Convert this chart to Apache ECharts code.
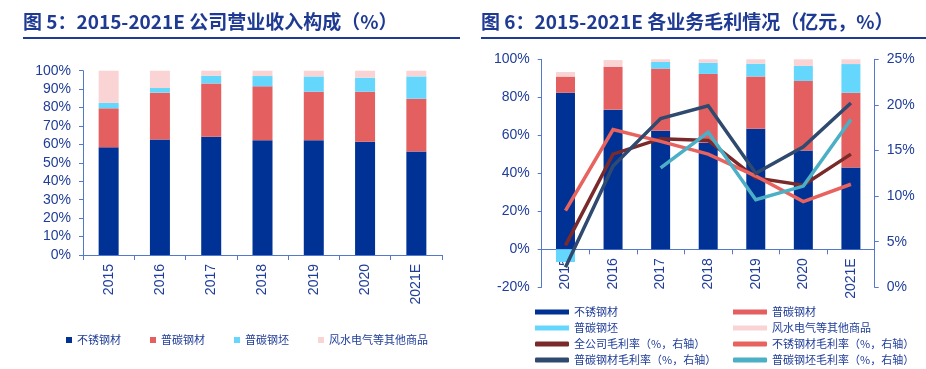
<!DOCTYPE html>
<html><head><meta charset="utf-8">
<script src="https://cdn.jsdelivr.net/npm/echarts@6/dist/echarts.min.js"></script>
<style>html,body{margin:0;padding:0;background:#fff}#c{width:926px;height:369px}</style>
</head><body><div id="c"></div>
<script>
const years = ['2015','2016','2017','2018','2019','2020','2021E'];
// Figure 5: revenue composition (%)
const revStainless = [58.4, 62.7, 64.2, 62.2, 62.2, 61.5, 56.1];
const revCarbon    = [21.2, 25.4, 28.9, 29.3, 26.4, 27.1, 28.7];
const revBillet    = [2.9, 2.5, 4.2, 5.6, 8.3, 7.6, 12.1];
const revOther     = [17.5, 9.4, 2.7, 2.9, 3.1, 3.8, 3.1];
// Figure 6: gross profit composition (%) and margins (%, right axis)
const gpStainless = [82.4, 73.5, 62.4, 56.1, 63.4, 52.0, 43.1];
const gpCarbon    = [8.5, 22.6, 32.7, 36.2, 27.6, 36.6, 39.3];
const gpBillet    = [-6.7, 0, 3.5, 5.9, 6.7, 7.9, 15.1];
const gpOther     = [2.4, 3.5, 1.4, 1.8, 2.3, 3.5, 2.5];
const mTotal     = [4.6, 14.6, 16.3, 16.1, 12.0, 11.2, 14.6];
const mStainless = [8.4, 17.3, 16.0, 14.6, 12.2, 9.4, 11.3];
const mCarbon    = [2.2, 13.3, 18.5, 19.9, 12.5, 15.4, 20.2];
const mBillet    = [null, null, 13.1, 17.0, 9.6, 11.1, 18.4];
const leftTicks = { min: 0, max: 100, interval: 10 };
const gpTicks = { min: -20, max: 100, interval: 20 };
const marginTicks = { min: 0, max: 25, interval: 5 };

const C = { navy:'#003296', red:'#E46060', cyan:'#66D7FC', pink:'#FAD4D4',
  brown:'#7A2A2A', salmon:'#E8625E', slate:'#2F4A6E', teal:'#4BAFC6' };
const TXT = '#1F3D99', AX = '#5479CC';
const LAT = '"Liberation Sans", Arial, sans-serif';
const CJK = '"Noto Sans CJK SC", sans-serif';

const axisLbl = { color: TXT, fontSize: 14, fontFamily: LAT };
function xAxisCfg(gi, margin, visible){
  return { type:'category', gridIndex: gi, data: years, boundaryGap: true, show: visible,
    axisLine:{ show:true, onZero:true, lineStyle:{ color: AX, width: 1 } },
    axisTick:{ show:true, length:5, lineStyle:{ color: AX } },
    axisLabel: Object.assign({ rotate: 90, margin: margin, interval: 0 }, axisLbl),
    splitLine:{ show:false } };
}
function yAxisCfg(gi, t, pos, visible){
  return { type:'value', gridIndex: gi, position: pos, min:t.min, max:t.max, interval:t.interval, show: visible,
    axisLine:{ show:true, lineStyle:{ color: AX, width: 1 } },
    axisTick:{ show:true, length:4, lineStyle:{ color: AX } },
    axisLabel: Object.assign({ formatter:'{value}%', margin: 12 }, axisLbl),
    splitLine:{ show:false } };
}
function bar(name, data, color, xi, yi, stack, w){
  return { name, type:'bar', xAxisIndex: xi, yAxisIndex: yi, stack, data, barWidth: w,
    itemStyle:{ color }, emphasis:{ disabled:true }, animation:false };
}
function line(name, data, color){
  return { name, type:'line', xAxisIndex:1, yAxisIndex:2, data, symbol:'none',
    lineStyle:{ color, width:3.5, join:'miter' }, itemStyle:{ color }, connectNulls:false,
    emphasis:{ disabled:true }, animation:false };
}
const legText = { color: TXT, fontSize: 11, fontFamily: CJK, lineHeight: 16 };

const option = {
  backgroundColor:'#fff',
  animation:false,
  graphic:[
    { type:'text', left:23, top:12, style:{ text:'图 5：2015-2021E 公司营业收入构成（%）', fill:'#1F3A93',
      font:'bold 19px "Noto Sans CJK SC", sans-serif' } },
    { type:'text', left:481, top:12, style:{ text:'图 6：2015-2021E 各业务毛利情况（亿元，%）', fill:'#1F3A93',
      font:'bold 19px "Noto Sans CJK SC", sans-serif' } },
    { type:'line', shape:{ x1:23, y1:38, x2:460, y2:38 }, style:{ stroke:'#1F3A93', lineWidth:2 } },
    { type:'line', shape:{ x1:481, y1:38, x2:926, y2:38 }, style:{ stroke:'#1F3A93', lineWidth:2 } }
  ],
  grid:[
    { left:83, top:70.7, width:359, height:184.3 },
    { left:541.7, top:59.3, width:333, height:228 },
    // same band as grid 1, from 100% down to the 0% line, carrying the visible category axis
    { left:541.7, top:59.3, width:333, height:190 }
  ],
  xAxis:[ xAxisCfg(0, 9, true), xAxisCfg(1, 9, false), xAxisCfg(2, 9, true) ],
  yAxis:[ yAxisCfg(0, leftTicks, 'left', true), yAxisCfg(1, gpTicks, 'left', true),
          yAxisCfg(1, marginTicks, 'right', true), yAxisCfg(2, { min:0, max:100, interval:20 }, 'left', false) ],
  legend:[
    { left:66, top:332, padding:0, orient:'horizontal', itemWidth:6, itemHeight:6, itemGap:29, icon:'rect',
      textStyle: legText, selectedMode:false,
      data:['不锈钢材','普碳钢材','普碳钢坯','风水电气等其他商品'] },
    { left:535, top:304, padding:0, height:66, orient:'vertical', itemWidth:34, itemHeight:5, itemGap:0,
      textStyle: legText, selectedMode:false,
      data:[{name:'不锈钢材',icon:'rect'},{name:'普碳钢坯',icon:'rect'},
            {name:'全公司毛利率（%，右轴）',icon:'roundRect'},{name:'普碳钢材毛利率（%，右轴）',icon:'roundRect'}] },
    { left:733, top:304, padding:0, height:66, orient:'vertical', itemWidth:34, itemHeight:5, itemGap:0,
      textStyle: legText, selectedMode:false,
      data:[{name:'普碳钢材',icon:'rect'},{name:'风水电气等其他商品',icon:'rect'},
            {name:'不锈钢材毛利率（%，右轴）',icon:'roundRect'},{name:'普碳钢坯毛利率（%，右轴）',icon:'roundRect'}] }
  ],
  series:[
    bar('不锈钢材', revStainless, C.navy, 0, 0, 'a', 20),
    bar('普碳钢材', revCarbon, C.red, 0, 0, 'a', 20),
    bar('普碳钢坯', revBillet, C.cyan, 0, 0, 'a', 20),
    bar('风水电气等其他商品', revOther, C.pink, 0, 0, 'a', 20),
    bar('不锈钢材', gpStainless, C.navy, 1, 1, 'b', 19),
    bar('普碳钢材', gpCarbon, C.red, 1, 1, 'b', 19),
    bar('普碳钢坯', gpBillet, C.cyan, 1, 1, 'b', 19),
    bar('风水电气等其他商品', gpOther, C.pink, 1, 1, 'b', 19),
    line('全公司毛利率（%，右轴）', mTotal, C.brown),
    line('不锈钢材毛利率（%，右轴）', mStainless, C.salmon),
    line('普碳钢材毛利率（%，右轴）', mCarbon, C.slate),
    line('普碳钢坯毛利率（%，右轴）', mBillet, C.teal)
  ]
};
const chart = echarts.init(document.getElementById('c'), null, { renderer:'canvas' });
chart.setOption(option);
</script></body></html>
